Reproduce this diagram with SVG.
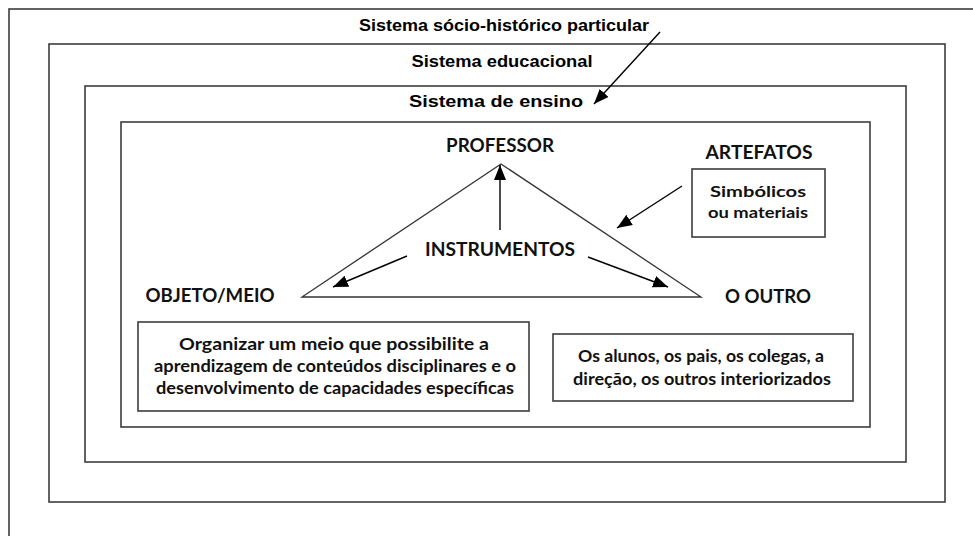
<svg xmlns="http://www.w3.org/2000/svg" width="973" height="536" viewBox="0 0 973 536">
  <defs>
    <marker id="ah" markerUnits="userSpaceOnUse" markerWidth="16" markerHeight="14" refX="15" refY="6" orient="auto">
      <path d="M0,0 L15,6 L0,12 Z" fill="#000"/>
    </marker>
    <style>
      .frame { fill: none; stroke: #3c3c3c; stroke-width: 1.6; }
      .box { fill: #fff; stroke: #3c3c3c; stroke-width: 1.6; }
      .hdr { font-family: "Liberation Sans", Arial, sans-serif; font-weight: bold; font-size: 17px; fill: #000; text-anchor: middle; }
      .lbl { font-family: Lato, "Open Sans", sans-serif; font-weight: bold; font-size: 18px; fill: #111; text-anchor: middle; }
      .txt { font-family: Lato, "Open Sans", sans-serif; font-weight: bold; font-size: 17px; fill: #111; text-anchor: middle; }
      .small { font-family: Lato, "Open Sans", sans-serif; font-weight: bold; font-size: 15.5px; fill: #111; text-anchor: middle; }
      .conn { stroke: #000; stroke-width: 1.4; fill: none; }
      .tri { fill: #fff; stroke: #333; stroke-width: 1.3; }
    </style>
  </defs>

  <rect x="0" y="0" width="973" height="536" fill="#fff"/>

  <g id="sistema-socio-historico">
    <rect class="frame" x="9" y="9" width="1000" height="600"/>
    <text class="hdr" x="504" y="31" textLength="290" lengthAdjust="spacingAndGlyphs">Sistema sócio-histórico particular</text>
  </g>

  <g id="sistema-educacional">
    <rect class="frame" x="49" y="44" width="896" height="458"/>
    <text class="hdr" x="502" y="67" textLength="181" lengthAdjust="spacingAndGlyphs">Sistema educacional</text>
  </g>

  <g id="sistema-ensino">
    <rect class="frame" x="85" y="86" width="821" height="376"/>
    <text class="hdr" x="496" y="107" textLength="174" lengthAdjust="spacingAndGlyphs">Sistema de ensino</text>
  </g>

  <g id="atividade">
    <rect class="frame" x="121" y="122" width="749" height="305"/>
  </g>

  <g id="triangulo">
    <polygon class="tri" points="501,164 302,297 701,297"/>
  </g>

  <g id="professor">
    <text class="lbl" x="500" y="152" textLength="108" lengthAdjust="spacingAndGlyphs">PROFESSOR</text>
  </g>

  <g id="instrumentos">
    <text class="lbl" x="500" y="256" textLength="150" lengthAdjust="spacingAndGlyphs">INSTRUMENTOS</text>
  </g>

  <g id="objeto-meio">
    <text class="lbl" x="210" y="302" textLength="129" lengthAdjust="spacingAndGlyphs">OBJETO/MEIO</text>
  </g>

  <g id="o-outro">
    <text class="lbl" x="768" y="303" textLength="86" lengthAdjust="spacingAndGlyphs">O OUTRO</text>
  </g>

  <g id="artefatos">
    <text class="lbl" x="759" y="159" textLength="107" lengthAdjust="spacingAndGlyphs">ARTEFATOS</text>
    <rect class="box" x="692" y="169" width="133" height="68"/>
    <text class="small" x="758" y="197" textLength="96" lengthAdjust="spacingAndGlyphs">Simbólicos</text>
    <text class="small" x="758" y="218" textLength="100" lengthAdjust="spacingAndGlyphs">ou materiais</text>
  </g>

  <g id="objeto-descricao">
    <rect class="box" x="138" y="322" width="391" height="89"/>
    <text class="txt" x="334" y="350" textLength="310" lengthAdjust="spacingAndGlyphs">Organizar um meio que possibilite a</text>
    <text class="txt" x="335" y="372" textLength="362" lengthAdjust="spacingAndGlyphs">aprendizagem de conteúdos disciplinares e o</text>
    <text class="txt" x="335" y="394" textLength="358" lengthAdjust="spacingAndGlyphs">desenvolvimento de capacidades específicas</text>
  </g>

  <g id="outro-descricao">
    <rect class="box" x="553" y="334" width="300" height="67"/>
    <text class="txt" x="701" y="362" textLength="246" lengthAdjust="spacingAndGlyphs">Os alunos, os pais, os colegas, a</text>
    <text class="txt" x="702" y="385" textLength="258" lengthAdjust="spacingAndGlyphs">direção, os outros interiorizados</text>
  </g>

  <g id="connectors">
    <line class="conn" x1="660" y1="32" x2="594" y2="104" marker-end="url(#ah)"/>
    <line class="conn" x1="500" y1="230" x2="500" y2="165" marker-end="url(#ah)"/>
    <line class="conn" x1="407" y1="256" x2="333" y2="287" marker-end="url(#ah)"/>
    <line class="conn" x1="588" y1="257" x2="668" y2="287" marker-end="url(#ah)"/>
    <line class="conn" x1="682" y1="186" x2="617" y2="228" marker-end="url(#ah)"/>
  </g>
</svg>
